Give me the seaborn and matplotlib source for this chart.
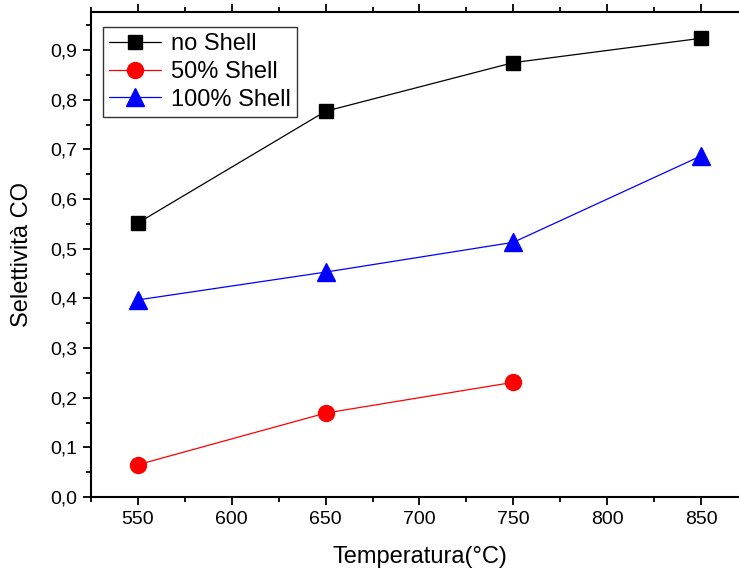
import matplotlib
matplotlib.use("Agg")
import matplotlib.pyplot as plt
from matplotlib.ticker import MultipleLocator, FuncFormatter
import seaborn as sns
import pandas as pd

# Temperatures (°C) and CO selectivity for each shell configuration
temperature = [550, 650, 750, 850]
no_shell = [0.552, 0.777, 0.875, 0.924]
shell_50 = [0.065, 0.169, 0.231, None]
shell_100 = [0.397, 0.453, 0.513, 0.687]

series_names = ["no Shell", "50% Shell", "100% Shell"]
series_values = [no_shell, shell_50, shell_100]
series_colors = ["black", "red", "blue"]
series_markers = ["s", "o", "^"]
marker_sizes = [10.5, 11.5, 13]

sns.set_theme(style="ticks")
plt.rcParams["font.family"] = ["Liberation Sans", "DejaVu Sans"]
plt.rcParams["text.color"] = "black"
plt.rcParams["axes.labelcolor"] = "black"

fig = plt.figure(figsize=(7.39, 5.70), dpi=100)
ax = fig.add_axes([0.1231, 0.1281, 0.889, 0.850])

for name, vals, col, mk, ms in zip(series_names, series_values, series_colors,
                                   series_markers, marker_sizes):
    df = pd.DataFrame({"T": temperature, "S": vals}).dropna()
    sns.lineplot(data=df, x="T", y="S", ax=ax, color=col, marker=mk,
                 markersize=ms, markeredgecolor=col, markeredgewidth=1,
                 linewidth=0.9, label=name)

ax.set_xlim(525, 875)
ax.set_ylim(0, 0.976)
ax.xaxis.set_major_locator(MultipleLocator(50))
ax.xaxis.set_minor_locator(MultipleLocator(25))
ax.yaxis.set_major_locator(MultipleLocator(0.1))
ax.yaxis.set_minor_locator(MultipleLocator(0.05))
ax.yaxis.set_major_formatter(FuncFormatter(lambda v, p: f"{v:.1f}".replace(".", ",")))

for side in ["left", "bottom", "top", "right"]:
    ax.spines[side].set_linewidth(1.5)
    ax.spines[side].set_color("black")

ax.tick_params(axis="both", which="major", direction="out", length=6, width=1.3,
               labelsize=14, colors="black", labelcolor="black", pad=4)
ax.tick_params(axis="both", which="minor", direction="out", length=3.5, width=1.3,
               colors="black")
ax.tick_params(axis="x", which="both", top=True)
ax.tick_params(axis="x", which="major", labeltop=False)

ax.set_xlabel("Temperatura(°C)", fontsize=17, labelpad=13, color="black")
ax.set_ylabel("Selettività CO", fontsize=17, labelpad=12, color="black")

leg = ax.legend(loc="upper left", bbox_to_anchor=(0.019, 0.97), fontsize=17,
                frameon=True, fancybox=False, edgecolor="black",
                handlelength=2.2, handletextpad=0.4, labelspacing=0.25,
                borderpad=0.25, borderaxespad=0)
leg.get_frame().set_linewidth(1.0)
for t in leg.get_texts():
    t.set_color("black")

fig.savefig("out.png", dpi=100, facecolor="white")
